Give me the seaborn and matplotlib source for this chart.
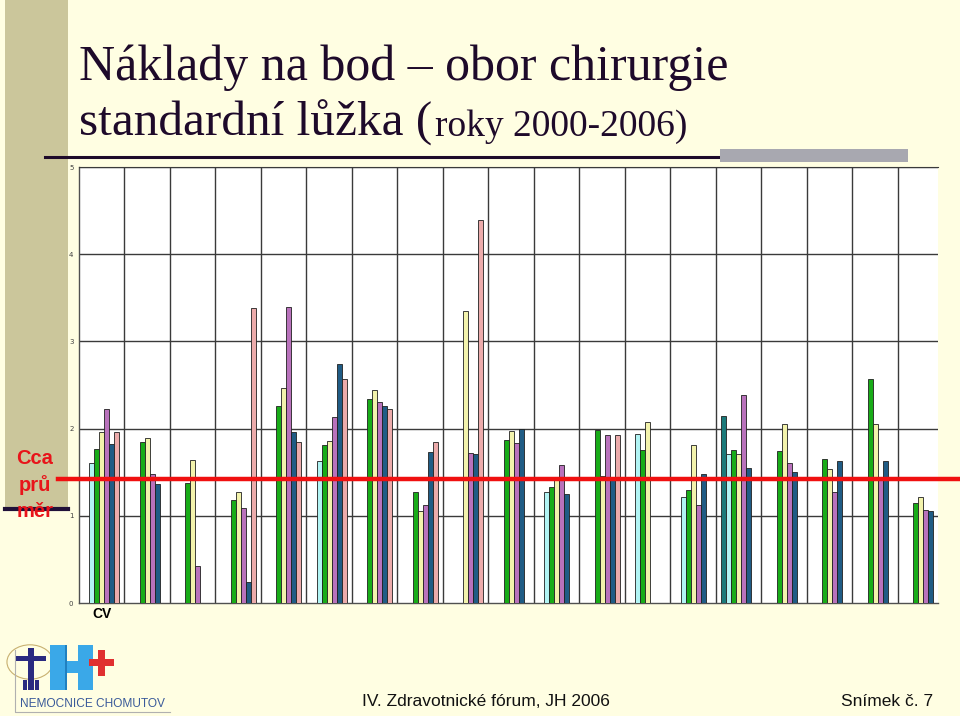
import numpy as np
import pandas as pd
import matplotlib
matplotlib.use("Agg")
import matplotlib.pyplot as plt
import matplotlib.transforms as mtransforms
from matplotlib.patches import Rectangle, Circle
from matplotlib.lines import Line2D
import seaborn as sns

# ---------------- data ----------------
groups = ["CV", "G2", "G3", "G4", "G5", "G6", "G7", "G8", "G9", "G10",
          "G11", "G12", "G13", "G14", "G15", "G16", "G17", "G18", "G19"]
group_labels = ["CV"] + [""] * 18
years = ["2000", "2001", "2002", "2003", "2004", "2005", "2006"]
nan = np.nan
y2000 = [nan, nan, nan, nan, nan, nan, nan, nan, nan, nan, nan, nan, nan, nan, 2.15, nan, nan, nan, nan]
y2001 = [1.60, nan, nan, nan, nan, 1.63, nan, nan, nan, nan, 1.27, nan, 1.94, 1.21, 1.71, nan, nan, nan, nan]
y2002 = [1.77, 1.85, 1.38, 1.18, 2.26, 1.81, 2.34, 1.27, nan, 1.87, 1.33, 1.98, 1.75, 1.30, 1.76, 1.74, 1.65, 2.57, 1.15]
y2003 = [1.96, 1.89, 1.64, 1.27, 2.47, 1.86, 2.44, 1.06, 3.35, 1.97, 1.43, 1.46, 2.08, 1.81, 1.71, 2.05, 1.54, 2.05, 1.22]
y2004 = [2.22, 1.48, 0.42, 1.09, 3.39, 2.13, 2.30, 1.12, 1.72, 1.83, 1.58, 1.93, nan, 1.12, 2.39, 1.61, 1.27, 1.44, 1.07]
y2005 = [1.82, 1.37, nan, 0.24, 1.96, 2.74, 2.26, 1.73, 1.71, 2.00, 1.25, 1.42, nan, 1.48, 1.55, 1.50, 1.63, 1.63, 1.06]
y2006 = [1.96, nan, nan, 3.38, 1.85, 2.57, 2.22, 1.85, 4.39, nan, nan, 1.93, nan, nan, nan, nan, nan, nan, nan]
average = 1.42
yticks = [0, 1, 2, 3, 4, 5]

series = [y2000, y2001, y2002, y2003, y2004, y2005, y2006]
rows = []
for yr, vals in zip(years, series):
    for g, v in zip(groups, vals):
        if not np.isnan(v):
            rows.append({"group": g, "year": yr, "value": v})
df = pd.DataFrame(rows)

palette = {"2000": "#0b8a8a", "2001": "#a6ffff", "2002": "#00c400", "2003": "#ffffa0",
           "2004": "#c466c8", "2005": "#0f5f96", "2006": "#f7a0a0"}

# ---------------- figure ----------------
W, H = 960, 716
BG = "#fffee2"
fig = plt.figure(figsize=(W / 100, H / 100), dpi=100, facecolor=BG)

def fx(px):
    return px / W

def fy(py):
    return 1 - py / H

def frect(x0, y0, x1, y1, color, z=1):
    fig.add_artist(Rectangle((fx(x0), fy(y1)), fx(x1) - fx(x0), fy(y0) - fy(y1),
                             transform=fig.transFigure, facecolor=color, edgecolor="none", zorder=z))

# left khaki strip
frect(5, 0, 68, 508, "#cbc69b", z=0)
fig.add_artist(Line2D([fx(5), fx(68)], [fy(509), fy(509)], transform=fig.transFigure,
                      color="#201038", lw=3, zorder=1))

# title underline + gray bar
fig.add_artist(Line2D([fx(45), fx(720)], [fy(157), fy(157)], transform=fig.transFigure,
                      color="#1e0a2a", lw=2.2, zorder=1))
frect(720, 149, 908, 162, "#a8a8b0")

# axes
ax = fig.add_axes([fx(79), fy(603), fx(938) - fx(79), fy(167) - fy(603)])
ax.set_facecolor("white")

sns.barplot(data=df, x="group", y="value", hue="year", order=groups, hue_order=years,
            palette=palette, width=0.76, edgecolor="#202020", linewidth=0.6,
            legend=False, ax=ax, zorder=3)

ax.set_xlim(-0.5, 18.38)
ax.set_ylim(0, 5)
ax.set_yticks(yticks)
ax.set_yticklabels([str(t) for t in yticks], fontsize=5, color="#404040", family="DejaVu Sans")
ax.set_xticks(range(len(groups)))
ax.set_xticklabels(group_labels, fontsize=10, fontweight="bold", family="Liberation Sans")
ax.tick_params(axis="both", length=0)
ax.tick_params(axis="y", pad=4)
ax.tick_params(axis="x", pad=3)
ax.set_xlabel("")
ax.set_ylabel("")

# grid
for t in yticks[1:]:
    ax.axhline(t, color="#3a3a3a", lw=1.0, zorder=1)
for i in range(len(groups) - 1):
    ax.axvline(i + 0.5, color="#3a3a3a", lw=1.0, zorder=1)
for side in ["left", "bottom"]:
    ax.spines[side].set_color("#505050")
    ax.spines[side].set_linewidth(1.0)
ax.spines["top"].set_color("#3a3a3a")
ax.spines["right"].set_visible(False)

# red average line extending beyond axes
trans = mtransforms.blended_transform_factory(fig.transFigure, ax.transData)
ax.add_line(Line2D([fx(58), fx(958)], [average, average], transform=trans,
                   color="#f01010", lw=3.2, clip_on=False, zorder=6))

# titles
tcol = "#1e0a2a"
fig.text(fx(79), fy(80), "Náklady na bod – obor chirurgie", fontsize=36,
         family="Liberation Serif", color=tcol, va="baseline", ha="left")
t1 = fig.text(fx(79), fy(136), "standardní lůžka (", fontsize=35.5,
              family="Liberation Serif", color=tcol, va="baseline", ha="left")
fig.canvas.draw()
bb = t1.get_window_extent(renderer=fig.canvas.get_renderer())
fig.text(bb.x1 / W + 0.003, fy(136), "roky 2000-2006)",
         fontsize=27, family="Liberation Serif", color=tcol, va="baseline", ha="left")

# Cca průměr
fig.text(fx(35), fy(485), "Cca\nprů\nměr", fontsize=14.5, fontweight="bold",
         family="Liberation Sans", color="#e8141a", ha="center", va="center", linespacing=1.45)

# footer
fig.text(fx(362), fy(706), "IV. Zdravotnické fórum, JH 2006", fontsize=12.5,
         family="Liberation Sans", color="#111111", va="baseline", ha="left")
fig.text(fx(933), fy(706), "Snímek č. 7", fontsize=12.5,
         family="Liberation Sans", color="#111111", va="baseline", ha="right")

# logo (approximation with shapes)
fig.add_artist(Line2D([fx(15), fx(15), fx(170)], [fy(650), fy(712), fy(712)],
                      transform=fig.transFigure, color="#b0b0b0", lw=0.8))
fig.text(fx(92), fy(707), "NEMOCNICE CHOMUTOV", fontsize=8.6, family="Liberation Sans",
         color="#3a5a9a", ha="center", va="baseline")
fig.add_artist(Circle((fx(30), fy(662)), 0.024, transform=fig.transFigure,
                      facecolor="none", edgecolor="#c8b070", lw=0.8))
# stylised figure
frect(28, 648, 34, 690, "#2a2a80", z=2)
frect(16, 656, 46, 661, "#2a2a80", z=2)
frect(23, 680, 27, 690, "#2a2a80", z=2)
frect(35, 680, 39, 690, "#2a2a80", z=2)
# H
frect(50, 645, 65, 690, "#3aa8e8", z=2)
frect(78, 645, 93, 690, "#3aa8e8", z=2)
frect(65, 661, 78, 673, "#3aa8e8", z=2)
frect(65, 645, 67, 690, "#2080c0", z=2)
# plus
frect(98, 650, 105, 676, "#e03030", z=2)
frect(89, 659, 114, 666, "#e03030", z=2)

fig.savefig("out.png", dpi=100, facecolor=BG)
